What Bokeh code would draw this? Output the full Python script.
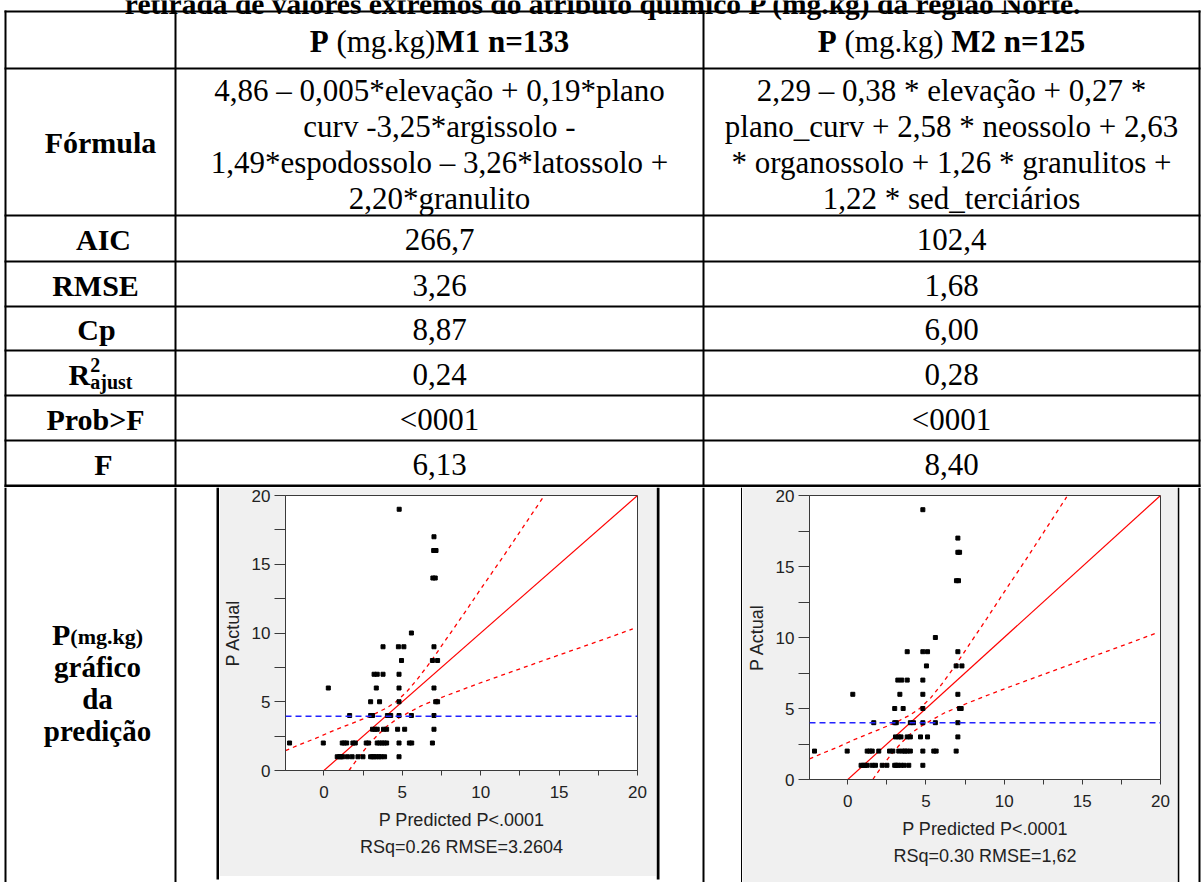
from bokeh.plotting import figure
from bokeh.layouts import row, column
from bokeh.models import Range1d, FixedTicker, Span, Title
from bokeh.core.properties import value
from bokeh.embed import file_html
from bokeh.resources import INLINE

# ---------------- data ----------------
title_text = "retirada de valores extremos do atributo químico P (mg.kg) da região Norte."
header_m1 = [("P", True), (" (mg.kg)", False), ("M1 n=133", True)]
header_m2 = [("P", True), (" (mg.kg)", False), (" M2 n=125", True)]
formula_m1 = ["4,86 – 0,005*elevação + 0,19*plano",
              "curv -3,25*argissolo -",
              "1,49*espodossolo – 3,26*latossolo +",
              "2,20*granulito"]
formula_m2 = ["2,29 – 0,38 * elevação + 0,27 *",
              "plano_curv + 2,58 * neossolo + 2,63",
              "* organossolo + 1,26 * granulitos +",
              "1,22 * sed_terciários"]
stat_names = ["AIC", "RMSE", "Cp", "R2ajust", "Prob>F", "F"]
stats_m1 = ["266,7", "3,26", "8,87", "0,24", "<0001", "6,13"]
stats_m2 = ["102,4", "1,68", "6,00", "0,28", "<0001", "8,40"]
plot_row_label = ["gráfico", "da", "predição"]

# chart 1 (M1) points: predicted vs actual
pred_m1 = [4.80, 7.02, 7.00, 7.15, 6.95, 7.10, 5.58,
           3.77, 4.75, 5.10, 7.02,
           4.95, 6.92, 7.25,
           3.20, 3.40, 3.77, 4.79,
           0.28, 3.34, 4.79, 7.02,
           2.98, 3.55, 4.79, 7.13, 7.25,
           1.64, 2.98, 3.10, 4.05, 4.26, 4.79, 5.58, 7.02,
           3.10, 3.25, 3.40, 3.80, 4.00, 4.70, 5.15, 7.02,
           -2.19, -0.04, 1.17, 1.30, 1.45, 1.85, 2.00, 2.70, 2.85, 3.40, 3.55, 3.70, 3.85, 4.00, 4.79, 5.45, 5.60, 6.92,
           0.85, 1.00, 1.10, 1.20, 1.50, 1.80, 2.17, 2.49, 2.98, 3.10, 3.20, 3.35, 3.50, 3.65, 3.87, 4.79]
actual_m1 = [19, 17, 16, 16, 14, 14, 10,
             9, 9, 9, 9,
             8, 8, 8,
             7, 7, 7, 7,
             6, 6, 6, 6,
             5, 5, 5, 5, 5,
             4, 4, 4, 4, 4, 4, 4, 4,
             3, 3, 3, 3, 3, 3, 3, 3,
             2, 2, 2, 2, 2, 2, 2, 2, 2, 2, 2, 2, 2, 2, 2, 2, 2, 2,
             1, 1, 1, 1, 1, 1, 1, 1, 1, 1, 1, 1, 1, 1, 1, 1]

# chart 2 (M2) points
pred_m2 = [4.80, 7.04, 7.04, 7.15, 6.95, 7.08, 5.60,
           3.80, 4.80, 5.10, 7.04,
           5.03, 6.93, 7.30,
           3.20, 3.45, 3.80, 4.80,
           0.32, 3.33, 4.80, 7.04,
           3.00, 3.54, 4.80, 7.15, 7.25,
           1.66, 3.00, 3.10, 4.00, 4.20, 4.80, 5.60, 7.04,
           3.05, 3.25, 3.40, 3.80, 4.00, 4.65, 5.10, 7.04,
           -2.13, -0.04, 1.24, 1.40, 1.56, 1.98, 2.67, 2.88, 3.26, 3.50, 3.65, 3.80, 4.00, 4.80, 5.50, 5.65, 6.93,
           0.85, 1.00, 1.10, 1.24, 1.56, 1.77, 2.20, 2.50, 3.00, 3.10, 3.20, 3.40, 3.60, 3.90, 4.80]
actual_m2 = [19, 17, 16, 16, 14, 14, 10,
             9, 9, 9, 9,
             8, 8, 8,
             7, 7, 7, 7,
             6, 6, 6, 6,
             5, 5, 5, 5, 5,
             4, 4, 4, 4, 4, 4, 4, 4,
             3, 3, 3, 3, 3, 3, 3, 3,
             2, 2, 2, 2, 2, 2, 2, 2, 2, 2, 2, 2, 2, 2, 2, 2, 2,
             1, 1, 1, 1, 1, 1, 1, 1, 1, 1, 1, 1, 1, 1, 1]

# fitted line and confidence curves
fit_x = [-2.45, 20.0]
fit_y = [-2.45, 20.0]
upper_x = [-2.45, -1.5, -0.5, 0.5, 1.5, 2.5, 3.3, 4.0, 4.6, 5.3, 6.0, 6.8, 7.8, 8.9, 10.0, 11.4, 12.7, 14.0]
upper_y = [1.45, 1.90, 2.35, 2.85, 3.30, 3.75, 4.15, 4.55, 5.00, 5.75, 6.70, 7.90, 9.55, 11.35, 13.2, 15.5, 17.7, 19.9]
lower_x = [1.6, 2.2, 2.8, 3.4, 4.0, 4.6, 5.3, 6.2, 7.7, 9.8, 11.9, 14.0, 16.0, 18.0, 19.7]
lower_y = [0.0, 0.95, 1.80, 2.55, 3.20, 3.70, 4.15, 4.70, 5.40, 6.30, 7.15, 8.00, 8.80, 9.60, 10.3]
mean_m1 = 3.95
mean_m2 = 4.0
caption_m1 = "RSq=0.26 RMSE=3.2604"
caption_m2 = "RSq=0.30 RMSE=1,62"
x_title = "P Predicted P<.0001"
y_title = "P Actual"

# ---------------- layout helpers ----------------
W, H = 1202, 882
TOP_H = 487
X_LEFT, X_LAB, X_MID, X_RIGHT = 5, 175, 703, 1199
Y_LINES = [11, 68, 215, 261, 306, 350, 395, 440]
Y_PLOT = 485.5
SERIF = "Liberation Serif"
SANS = "Liberation Sans"
FS = 31
LAB_FS = 30
LAB_X = {"Fórmula": 100, "AIC": 103, "RMSE": 95, "Cp": 96, "R2ajust": 100, "Prob>F": 95, "F": 103}
BOT_LAB_X = 97

TNR_REG = {' ': 250, '(': 333, ')': 333, 'm': 778, 'g': 500, '.': 250, 'k': 500}
TNR_BOLD = {'P': 611, ' ': 250, 'M': 944, '1': 500, '2': 500, '3': 500, '5': 500, 'n': 556,
            '=': 570, '(': 333, ')': 333, 'm': 833, 'g': 500, '.': 250, 'k': 556, 'R': 722,
            'a': 500, 'j': 333, 'u': 556, 's': 389, 't': 333}


def tw(s, bold, size):
    t = TNR_BOLD if bold else TNR_REG
    return sum(t.get(c, 500) for c in s) * size / 1000.0


def blank(w, h, xr, yr):
    p = figure(width=w, height=h, x_range=Range1d(*xr), y_range=Range1d(*yr),
               output_backend="svg", toolbar_location=None, title=None,
               x_axis_type=None, y_axis_type=None, min_border=0)
    p.outline_line_color = None
    p.background_fill_color = "white"
    p.border_fill_color = "white"
    return p


def txt(p, x, y, s, size=FS, bold=False, align="center", baseline="middle", font=SERIF):
    p.text(x=[x], y=[y], text=[s], text_font=value(font), text_font_size=value(f"{size}px"),
           text_font_style=value("bold" if bold else "normal"), text_align=align,
           text_baseline=baseline, text_color="black")


def vline(p, x, y0, y1, w=2, color="black"):
    p.quad(left=x - w / 2, right=x + w / 2, top=y0, bottom=y1, color=color, line_width=0)


def hline(p, y, x0, x1, w=2, color="black"):
    p.quad(left=x0, right=x1, top=y - w / 2, bottom=y + w / 2, color=color, line_width=0)


# ---------------- top part: title + table ----------------
top = blank(W, TOP_H, (0, W), (TOP_H, 0))
txt(top, 603, 3, title_text, size=29.5, bold=True, baseline="alphabetic")
for y in Y_LINES:
    hline(top, y, X_LEFT - 1, X_RIGHT + 1)
hline(top, Y_PLOT, X_LEFT - 1, X_RIGHT + 1, w=3)
for x in (X_LEFT, X_LAB, X_MID, X_RIGHT):
    vline(top, x, Y_LINES[0] - 1, TOP_H)

# headers (pieces with mixed weight; leading spaces become offsets)
for pieces, cx in ((header_m1, (X_LAB + X_MID) / 2), (header_m2, (X_MID + X_RIGHT) / 2)):
    total = sum(tw(s, b, FS) for s, b in pieces)
    x = cx - total / 2
    for s, b in pieces:
        lead = len(s) - len(s.lstrip())
        txt(top, x + tw(s[:lead], b, FS), 41, s.strip(), bold=b, align="left")
        x += tw(s, b, FS)

# formula row
yc = (Y_LINES[1] + Y_LINES[2]) / 2
txt(top, LAB_X["Fórmula"], yc, "Fórmula", size=LAB_FS, bold=True)
for i, (a, b) in enumerate(zip(formula_m1, formula_m2)):
    yy = yc + 2 + (i - 1.5) * 36
    txt(top, (X_LAB + X_MID) / 2, yy, a)
    txt(top, (X_MID + X_RIGHT) / 2, yy, b)

# stats rows
row_edges = Y_LINES[2:] + [Y_PLOT]
for i, name in enumerate(stat_names):
    yy = (row_edges[i] + row_edges[i + 1]) / 2 + 1
    if name == "R2ajust":
        small = 20
        wR = tw("R", True, LAB_FS)
        wa = tw("ajust", True, small)
        x0 = LAB_X[name] - (wR + wa) / 2
        txt(top, x0, yy, "R", size=LAB_FS, bold=True, align="left")
        txt(top, x0 + wR, yy - 9, "2", size=small, bold=True, align="left")
        txt(top, x0 + wR, yy + 8, "ajust", size=small, bold=True, align="left")
    else:
        txt(top, LAB_X[name], yy, name, size=LAB_FS, bold=True)
    txt(top, (X_LAB + X_MID) / 2, yy, stats_m1[i])
    txt(top, (X_MID + X_RIGHT) / 2, yy, stats_m2[i])

# ---------------- bottom row ----------------
BOT_H = H - TOP_H
left = blank(219, BOT_H, (0, 219), (H, TOP_H))
vline(left, X_LEFT, TOP_H, H)
vline(left, X_LAB, TOP_H, H)
left.quad(left=216, right=219, top=TOP_H, bottom=879, color="black", line_width=0)
wP = tw("P", True, LAB_FS)
wm = tw("(mg.kg)", True, 22)
x0 = BOT_LAB_X - (wP + wm) / 2
txt(left, x0, 634, "P", size=LAB_FS, bold=True, align="left")
txt(left, x0 + wP, 636, "(mg.kg)", size=22, bold=True, align="left")
for i, s in enumerate(plot_row_label):
    txt(left, BOT_LAB_X, 666 + i * 32, s, size=29, bold=True)


def chart(w, h, bl, br, bt, bb, px, py, mean_y, caption):
    p = figure(width=w, height=h, x_range=Range1d(-2.45, 20), y_range=Range1d(0, 20),
               output_backend="svg", toolbar_location=None, title=None,
               min_border_left=bl, min_border_right=br, min_border_top=bt, min_border_bottom=bb)
    p.background_fill_color = "white"
    p.border_fill_color = "#f0f0f0"
    p.outline_line_color = "#3a3a3a"
    p.grid.visible = False
    for ax in (p.xaxis[0], p.yaxis[0]):
        ax.ticker = FixedTicker(ticks=[0, 5, 10, 15, 20], minor_ticks=[2.5, 7.5, 12.5, 17.5])
        ax.axis_line_color = "#3a3a3a"
        ax.major_tick_line_color = "#3a3a3a"
        ax.minor_tick_line_color = "#3a3a3a"
        ax.major_tick_in = 0
        ax.minor_tick_in = 0
        ax.major_label_text_font = SANS
        ax.major_label_text_font_size = "17px"
        ax.major_label_text_color = "#222222"
        ax.axis_label_text_font = SANS
        ax.axis_label_text_font_size = "18px"
        ax.axis_label_text_font_style = "normal"
        ax.axis_label_text_color = "#222222"
    p.xaxis.major_tick_out = 5
    p.xaxis.minor_tick_out = 5
    p.xaxis.major_label_standoff = 10
    p.xaxis.axis_label = x_title
    p.xaxis.axis_label_standoff = 9
    p.yaxis.major_tick_out = 11
    p.yaxis.minor_tick_out = 11
    p.yaxis.major_label_standoff = 4
    p.yaxis.axis_label = y_title
    p.yaxis.axis_label_standoff = 6
    p.add_layout(Span(location=mean_y, dimension="width", line_color="#2222ff",
                      line_dash="6 4", line_width=1.4))
    p.line(fit_x, fit_y, line_color="red", line_width=1.2)
    p.line(upper_x, upper_y, line_color="red", line_width=1.3, line_dash="4 4")
    p.line(lower_x, lower_y, line_color="red", line_width=1.3, line_dash="4 4")
    p.scatter(px, py, marker="square", size=4, color="black")
    p.add_layout(Title(text=caption, align="center", text_font=SANS, text_font_size="18px",
                       text_font_style="normal", text_color="#222222", standoff=4), "below")
    return p


c1 = chart(437, 389, 66, 19, 8, 106, pred_m1, actual_m1, mean_m1, caption_m1)
strip1 = blank(437, 6, (219, 656), (H, 876))
strip1.quad(left=219, right=656, top=876, bottom=879, color="black", line_width=0)

gap = blank(86, BOT_H, (656, 742), (H, TOP_H))
gap.quad(left=656, right=659, top=TOP_H, bottom=879, color="black", line_width=0)
vline(gap, X_MID, TOP_H, H)
gap.quad(left=740.5, right=742, top=TOP_H, bottom=H, color="black", line_width=0)

c2 = chart(435, BOT_H, 67, 17, 8, 103, pred_m2, actual_m2, mean_m2, caption_m2)

right = blank(25, BOT_H, (1177, 1202), (H, TOP_H))
right.quad(left=1177, right=1178.8, top=TOP_H, bottom=H, color="black", line_width=0)
vline(right, X_RIGHT, TOP_H, H)

bottom = row(column(left), column(c1, row(strip1)), column(gap), column(c2), column(right), spacing=0)
page = column(top, bottom, spacing=0)

open("out.html", "w").write(file_html(page, INLINE))
